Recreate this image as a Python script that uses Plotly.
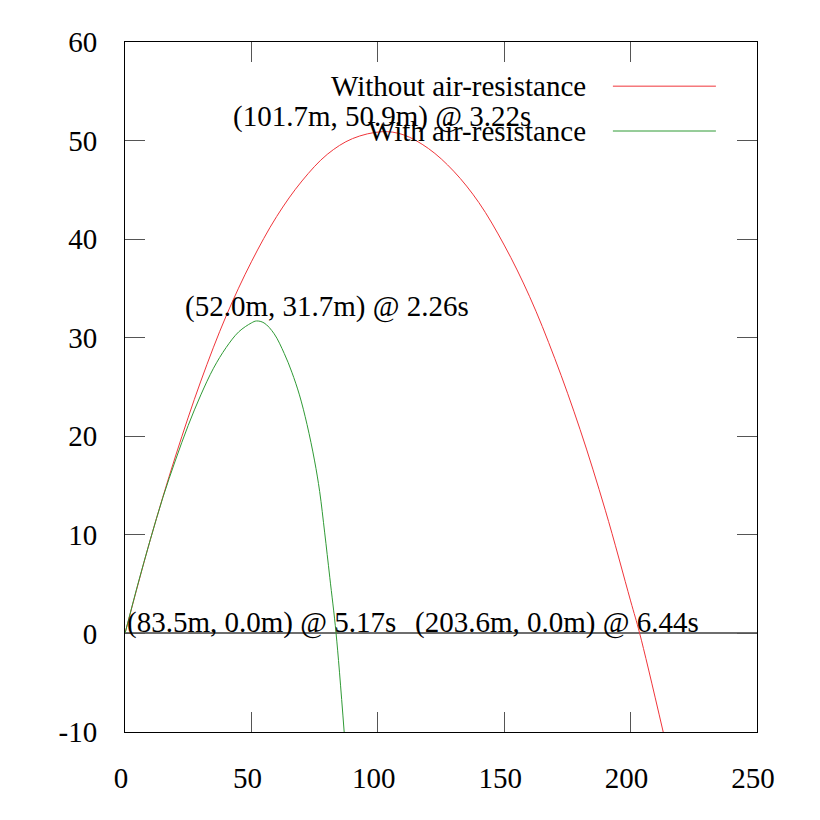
import plotly.graph_objects as go

# trajectory without air resistance (x in m, y in m)
no_air_x = [0, 10, 20, 30, 40, 50, 60, 70, 80, 90, 101.7, 110, 120, 130, 140,
            150, 160, 170, 180, 190, 200, 203.6, 212.9]
no_air_y = [0, 9.5, 18.0, 25.6, 32.2, 37.7, 42.3, 45.9, 48.6, 50.2, 50.9, 50.6,
            49.2, 46.9, 43.7, 39.4, 34.2, 27.9, 20.7, 12.5, 3.3, 0, -10]

# trajectory with air resistance
air_x = [0, 5, 10, 15, 20, 25, 30, 35, 40, 45, 50, 52, 55, 59, 63, 66, 69, 72,
         75, 77, 79, 81, 83.5, 86.7]
air_y = [0, 4.9, 9.5, 13.8, 17.6, 21.1, 24.2, 26.9, 29.0, 30.6, 31.5, 31.7, 31.5,
         30.4, 28.4, 26.5, 24.2, 21.2, 17.5, 14.4, 10.2, 5.7, 0, -10]

series_names = ["Without air-resistance", "With air-resistance"]

# apex and landing points: (x, y, t)
apex_no_air = (101.7, 50.9, 3.22)
apex_air = (52.0, 31.7, 2.26)
land_air = (83.5, 0.0, 5.17)
land_no_air = (203.6, 0.0, 6.44)

x_ticks = [0, 50, 100, 150, 200, 250]
y_ticks = [-10, 0, 10, 20, 30, 40, 50, 60]
y_tick_text = ["-10", "0", "10", "20", "30", "40", "50", "60"]

FONT = "Liberation Serif"
RED = "#f0353a"
GREEN = "#2f9a35"


def label(p):
    return "(%.1fm, %.1fm) @ %.2fs" % p


fig = go.Figure()
fig.add_trace(go.Scatter(x=no_air_x, y=no_air_y, mode="lines",
                         line=dict(color=RED, width=1, shape="spline"),
                         name=series_names[0]))
fig.add_trace(go.Scatter(x=air_x, y=air_y, mode="lines",
                         line=dict(color=GREEN, width=1, shape="spline"),
                         name=series_names[1]))

txt = dict(family=FONT, size=29, color="black")
# labels are left-anchored, shifted (px) from the point they describe
notes = [
    (apex_no_air, -151, 15),
    (apex_air, -73, 14),
    (land_air, -211, 11),
    (land_no_air, -227, 11),
]
for p, dx, dy in notes:
    fig.add_annotation(x=p[0], y=p[1], text=label(p), showarrow=False,
                       xanchor="left", yanchor="middle", xshift=dx, yshift=dy,
                       font=txt)

# gnuplot style key: text on the left, line sample on the right
for name, col, ky in zip(series_names, [RED, GREEN], [0.936, 0.871]):
    fig.add_annotation(x=0.733, y=ky, xref="paper", yref="paper", text=name,
                       showarrow=False, xanchor="right", yanchor="middle",
                       font=txt)
    fig.add_shape(type="line", xref="paper", yref="paper", x0=0.772, x1=0.935,
                  y0=ky, y1=ky, line=dict(color=col, width=1))

axis_common = dict(showgrid=False, showline=True, linecolor="black", linewidth=1,
                   mirror="allticks", ticks="inside", ticklen=20, tickwidth=1,
                   tickcolor="#555555", automargin=False,
                   tickfont=dict(family=FONT, size=29, color="black"))

fig.update_xaxes(range=[0, 250], tickvals=x_ticks, zeroline=False,
                 ticklabelstandoff=20, ticklabelshift=-4, **axis_common)
fig.update_yaxes(range=[-10, 60], tickvals=y_ticks, ticktext=y_tick_text,
                 zeroline=True, zerolinecolor="#6e6e6e", zerolinewidth=1.5,
                 ticklabelstandoff=21, **axis_common)

# the page adds an 8px body margin, so the margins are offset by it
fig.update_layout(width=820, height=820, showlegend=False,
                  plot_bgcolor="white", paper_bgcolor="white",
                  margin=dict(l=116.5, r=71, t=34, b=96))

fig.write_html("out.html")
